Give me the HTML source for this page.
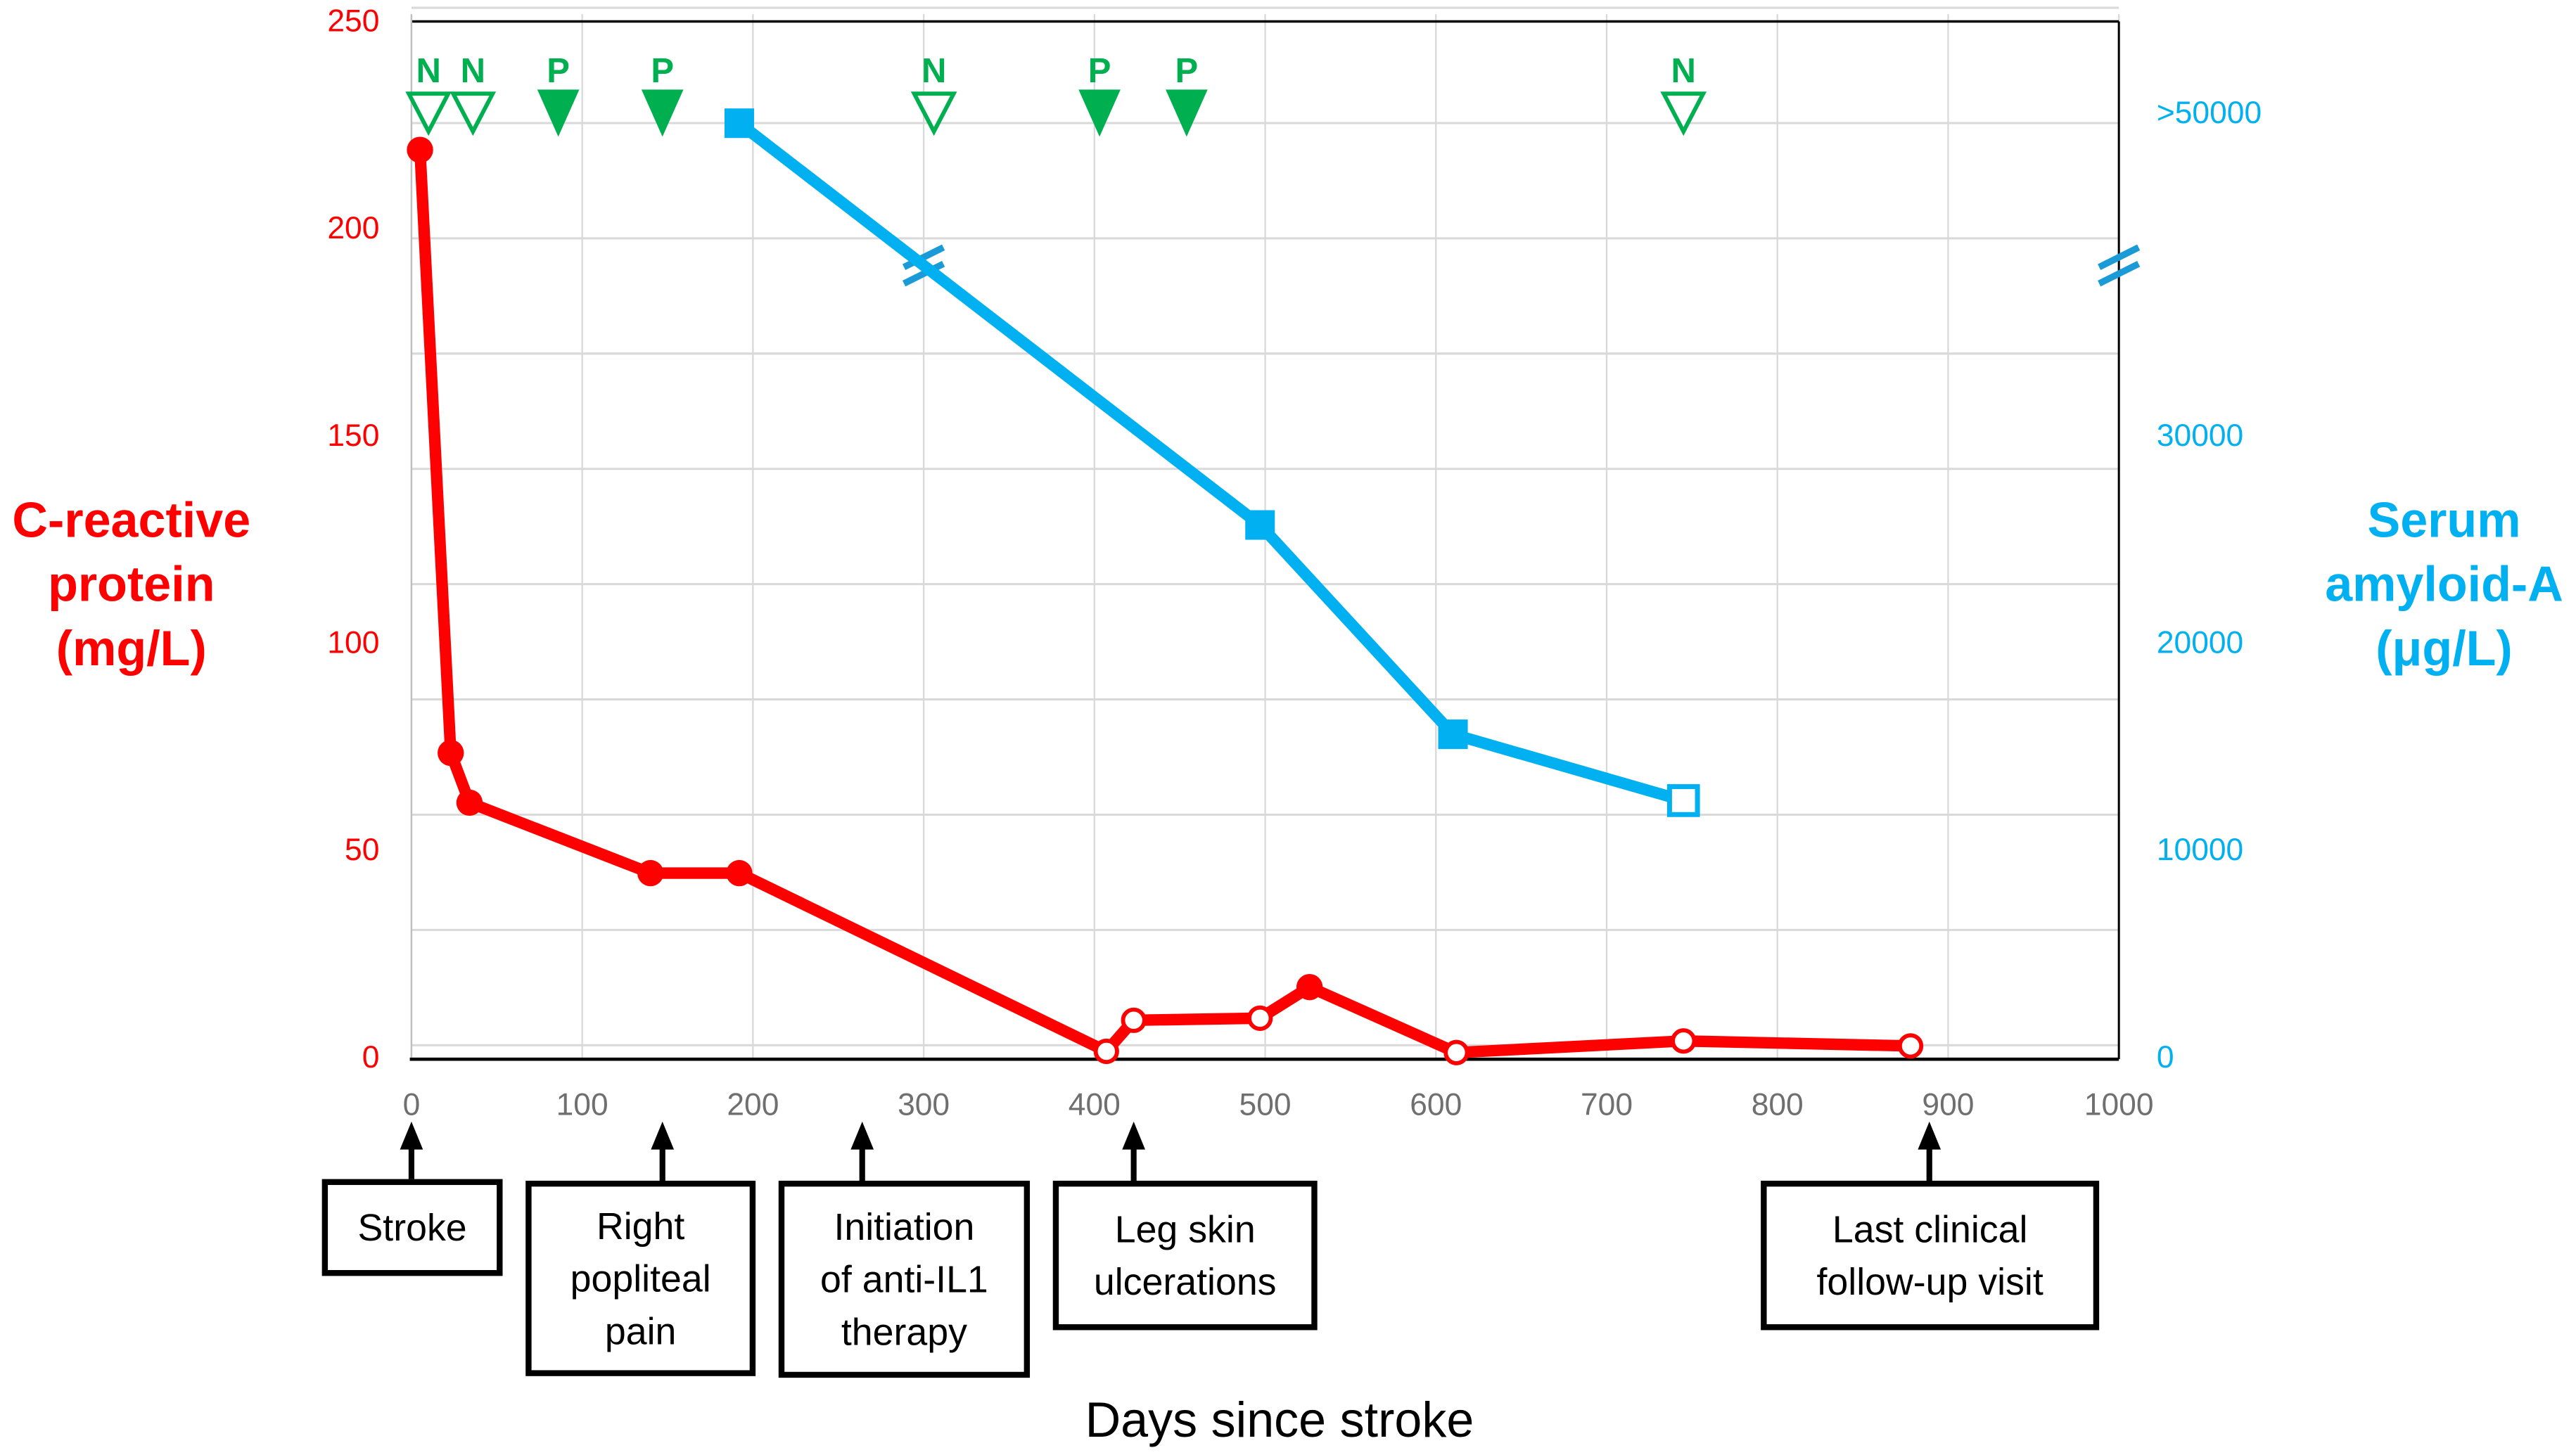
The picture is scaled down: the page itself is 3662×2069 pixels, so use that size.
<!DOCTYPE html>
<html><head><meta charset="utf-8"><style>
html,body{margin:0;padding:0;background:#fff;width:3662px;height:2069px;overflow:hidden}
svg{display:block}
text{font-family:"Liberation Sans",sans-serif}
</style></head><body>
<svg id="chart" width="3662" height="2069" viewBox="0 0 1568.3 886" xmlns="http://www.w3.org/2000/svg">
<g id="grid"></g>
<g id="axes"></g>
<g id="series"></g>
<g id="events"></g>
<g id="notes"></g>
<text x="80" y="327" font-size="30" font-weight="bold" fill="#FF0000" text-anchor="middle">C-reactive</text>
<text x="80" y="366" font-size="30" font-weight="bold" fill="#FF0000" text-anchor="middle">protein</text>
<text x="80" y="405" font-size="30" font-weight="bold" fill="#FF0000" text-anchor="middle">(mg/L)</text>
<text x="1488" y="327" font-size="30" font-weight="bold" fill="#00B0F0" text-anchor="middle">Serum</text>
<text x="1488" y="366" font-size="30" font-weight="bold" fill="#00B0F0" text-anchor="middle">amyloid-A</text>
<text x="1488" y="405" font-size="30" font-weight="bold" fill="#00B0F0" text-anchor="middle">(μg/L)</text>
<text x="779" y="875" font-size="30" fill="#000" text-anchor="middle">Days since stroke</text>
</svg>
<script>
const crpDays = [5, 23, 34, 140, 192, 407, 423, 497, 526, 612, 745, 878];
const crpValues = [219, 73.5, 61.5, 44.5, 44.5, 1.5, 9, 9.5, 17, 1.2, 4, 2.8];
const crpFilled = [true, true, true, true, true, false, false, false, true, false, false, false];
const saaDays = [192, 497, 610, 745];
const saaValues = [50000, 25700, 15600, 12400];
const saaFilled = [true, true, true, false];
const eventDays = [10, 36, 86, 147, 306, 403, 454, 745];
const eventTypes = ["N", "N", "P", "P", "N", "P", "P", "N"];
const xTicks = [0, 100, 200, 300, 400, 500, 600, 700, 800, 900, 1000];
const yLeftTicks = [0, 50, 100, 150, 200, 250];
const yRightTicks = [0, 10000, 20000, 30000];
const noteDays = [0, 147, 264, 423, 889];
const noteLines = [["Stroke"], ["Right", "popliteal", "pain"], ["Initiation", "of anti-IL1", "therapy"], ["Leg skin", "ulcerations"], ["Last clinical", "follow-up visit"]];

const NS = "http://www.w3.org/2000/svg";
const X0 = 250.5, X1 = 1290, Y0 = 644, Y250 = 13;
const xS = d => X0 + d / 1000 * (X1 - X0);
const yS = v => Y0 - v / 250 * (Y0 - Y250);
const ySaa = v => v >= 50000 ? 75 : yS(v / 200);
function mk(tag, attrs, parent, txt) {
  const e = document.createElementNS(NS, tag);
  for (const k in attrs) e.setAttribute(k, attrs[k]);
  if (txt !== undefined) e.textContent = txt;
  parent.appendChild(e);
  return e;
}
const grid = document.getElementById('grid'), axes = document.getElementById('axes'),
  series = document.getElementById('series'), events = document.getElementById('events'), notes = document.getElementById('notes');

for (let i = 0; i <= 9; i++) {
  const y = 636.5 - i * 70.2;
  const l = mk('line', {x1: X0, x2: X1, y1: y, y2: y, stroke: '#d9d9d9', 'stroke-width': 1.3}, grid);
  
  
}
xTicks.forEach(t => {
  const l = mk('line', {x1: xS(t), x2: xS(t), y1: 8.6, y2: Y0, stroke: '#d9d9d9', 'stroke-width': 1}, grid);
  
  
  const tx = mk('text', {x: xS(t), y: 679, 'font-size': 19, fill: '#6f6f6f', 'text-anchor': 'middle'}, axes, String(t));
  
  
});
let a = mk('line', {x1: X0, x2: X1, y1: Y250, y2: Y250, stroke: '#000', 'stroke-width': 1.5}, axes);
 
a = mk('line', {x1: X0 - 1, x2: X1, y1: Y0 + 1, y2: Y0 + 1, stroke: '#000', 'stroke-width': 2}, axes);
 
a = mk('line', {x1: X1, x2: X1, y1: Y250, y2: Y0 + 1, stroke: '#000', 'stroke-width': 1.3}, axes);
 
a = mk('line', {x1: X0, x2: X0, y1: 8.6, y2: Y0, stroke: '#bfbfbf', 'stroke-width': 1}, axes);
 

yLeftTicks.forEach(t => {
  const tx = mk('text', {x: 231, y: yS(t) + 6, 'font-size': 19, fill: '#FF0000', 'text-anchor': 'end'}, axes, String(t));
  
  
});
yRightTicks.forEach(t => {
  const tx = mk('text', {x: 1313, y: ySaa(t) + 6, 'font-size': 19, fill: '#00B0F0'}, axes, String(t));
  
  
});
let tt = mk('text', {x: 1313, y: 75, 'font-size': 19, fill: '#00B0F0'}, axes, '>50000');



function breakMark(cx, cy, name) {
  const g = mk('g', {}, axes);
  
  
  [-5, 5].forEach(o => mk('line', {x1: cx - 12, y1: cy + o + 6, x2: cx + 12, y2: cy + o - 6, stroke: '#1A9AD6', 'stroke-width': 4}, g));
}

const saaPts = saaDays.map((d, i) => [xS(d), ySaa(saaValues[i])]);
let pl = mk('polyline', {points: saaPts.map(p => p.join(',')).join(' '), fill: 'none', stroke: '#00B0F0', 'stroke-width': 7, 'stroke-linejoin': 'round'}, series);


{
  const t = (300 - saaDays[0]) / (saaDays[1] - saaDays[0]);
  const by = saaPts[0][1] + t * (saaPts[1][1] - saaPts[0][1]);
  breakMark(xS(300), by, 'saa-line-break');
  breakMark(X1, by, 'right-axis-break');
}
saaPts.forEach((p, i) => {
  const r = mk('rect', {x: p[0] - 8.5, y: p[1] - 8.5, width: 17, height: 17, fill: saaFilled[i] ? '#00B0F0' : '#fff', stroke: '#00B0F0', 'stroke-width': saaFilled[i] ? 1 : 3}, series);
  
  
});

const crpPts = crpDays.map((d, i) => [xS(d), yS(crpValues[i])]);
pl = mk('polyline', {points: crpPts.map(p => p.join(',')).join(' '), fill: 'none', stroke: '#FF0000', 'stroke-width': 7, 'stroke-linejoin': 'round'}, series);


crpPts.forEach((p, i) => {
  const c = mk('circle', {cx: p[0], cy: p[1], r: crpFilled[i] ? 8 : 6.5, fill: crpFilled[i] ? '#FF0000' : '#fff', stroke: '#FF0000', 'stroke-width': crpFilled[i] ? 0 : 2.5}, series);
  
  
});

eventDays.forEach((d, i) => {
  const x = xS(d), isP = eventTypes[i] === 'P';
  const g = mk('g', {}, events);
  
  
  mk('text', {x: x, y: 50, 'font-size': 21, 'font-weight': 'bold', fill: '#00B050', 'text-anchor': 'middle'}, g, eventTypes[i]);
  mk('polygon', {points: `${x - 12},${isP ? 55 : 57} ${x + 12},${isP ? 55 : 57} ${x},${isP ? 82 : 80}`, fill: isP ? '#00B050' : '#fff', stroke: '#00B050', 'stroke-width': isP ? 1 : 2.5, 'stroke-linejoin': 'miter'}, g);
});

const boxes = [[196, 306, 718, 777], [320, 460, 719, 838], [474, 627, 719, 839], [641, 802, 719, 810], [1072, 1278, 719, 810]];
noteDays.forEach((d, i) => {
  const ax = xS(d);
  const [bx1, bx2, by1, by2] = boxes[i];
  const g = mk('g', {}, notes);
  
  
  mk('line', {x1: ax, x2: ax, y1: by1, y2: 697, stroke: '#000', 'stroke-width': 3.5}, g);
  mk('polygon', {points: `${ax - 7},700 ${ax + 7},700 ${ax},683`, fill: '#000'}, g);
  mk('rect', {x: bx1 + 1.8, y: by1 + 1.8, width: bx2 - bx1 - 3.6, height: by2 - by1 - 3.6, fill: '#fff', stroke: '#000', 'stroke-width': 3.6}, g);
  const n = noteLines[i].length, cx = (bx1 + bx2) / 2, cy = (by1 + by2) / 2;
  noteLines[i].forEach((s, k) => {
    mk('text', {x: cx, y: cy + (k - (n - 1) / 2) * 32 + 8, 'font-size': 23, fill: '#000', 'text-anchor': 'middle'}, g, s);
  });
});
</script>
</body></html>
